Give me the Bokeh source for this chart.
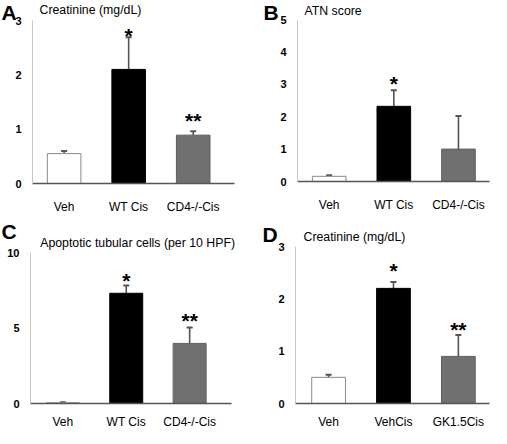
from bokeh.plotting import figure
from bokeh.layouts import column, row
from bokeh.models import Range1d, FixedTicker, Label, ColumnDataSource
from bokeh.core.properties import value
from bokeh.embed import file_html
from bokeh.resources import INLINE

FONT = "Liberation Sans"

# ---- data ----
cats_A = ["Veh", "WT Cis", "CD4-/-Cis"]
vals_A = [0.55, 2.1, 0.89]
errs_A = [0.05, 0.59, 0.07]
stars_A = ["", "*", "**"]
stary_A = [0, 2.93, 1.37]

cats_B = ["Veh", "WT Cis", "CD4-/-Cis"]
vals_B = [0.16, 2.32, 1.0]
errs_B = [0.03, 0.5, 1.02]
stars_B = ["", "*", ""]
stary_B = [0, 3.36, 0]

cats_C = ["Veh", "WT Cis", "CD4-/-Cis"]
vals_C = [0.05, 7.3, 3.98]
errs_C = [0.03, 0.52, 1.06]
stars_C = ["", "*", "**"]
stary_C = [0, 8.9, 6.22]

cats_D = ["Veh", "VehCis", "GK1.5Cis"]
vals_D = [0.5, 2.2, 0.9]
errs_D = [0.05, 0.12, 0.41]
stars_D = ["", "*", "**"]
stary_D = [0, 2.76, 1.63]

FILL = ["white", "black", "#707070"]
EDGE = ["#8a8a8a", "black", "#5e5e5e"]


def panel(cats, vals, errs, stars, stary, yticks, title, letter,
          w, h, L, R, T, B, xr, title_xy, letter_xy, standoff):
    ymax = yticks[-1]
    x0, x1 = xr
    kx = (x1 - x0) / (R - L)
    ky = ymax / (B - T)
    p = figure(width=w, height=h, output_backend="svg", toolbar_location=None,
               min_border_left=0, min_border_right=0,
               min_border_top=0, min_border_bottom=0,
               x_range=Range1d(x0 - L * kx, x1 + (w - R) * kx),
               y_range=Range1d(-(h - B) * ky, ymax + T * ky))
    p.outline_line_color = None
    p.xgrid.visible = False
    p.ygrid.visible = False
    xs = list(range(len(cats)))
    src = ColumnDataSource(dict(x=xs, top=vals, fill=FILL, edge=EDGE,
                                etop=[v + e for v, e in zip(vals, errs)]))
    p.segment(x0="x", y0="top", x1="x", y1="etop", source=src,
              line_color="#555555", line_width=1.6)
    p.scatter(x="x", y="etop", source=src, marker="dash", size=6,
              line_color="#555555", line_width=2)
    p.vbar(x="x", top="top", bottom=0, width=0.52, source=src,
           fill_color="fill", line_color="edge", line_width=1)
    sx = [x for x, s in zip(xs, stars) if s]
    sy = [y for y, s in zip(stary, stars) if s]
    st = [s for s in stars if s]
    p.text(x=sx, y=sy, text=st, text_font=value(FONT), text_font_size="21px",
           text_font_style="bold", y_offset=11,
           text_align="center", text_baseline="middle", text_color="black")

    p.xaxis.fixed_location = 0
    p.xaxis.bounds = (x0, x1)
    p.xaxis.ticker = FixedTicker(ticks=xs)
    p.xaxis.major_label_overrides = {i: c for i, c in enumerate(cats)}
    p.xaxis.major_tick_line_color = None
    p.xaxis.minor_tick_line_color = None
    p.xaxis.axis_line_color = "#555555"
    p.xaxis.axis_line_width = 1.5
    p.xaxis.major_label_text_font = FONT
    p.xaxis.major_label_text_font_size = "12px"
    p.xaxis.major_label_text_color = "black"
    p.xaxis.major_label_standoff = standoff

    p.yaxis.fixed_location = x0
    p.yaxis.bounds = (0, ymax)
    p.yaxis.ticker = FixedTicker(ticks=yticks)
    p.yaxis.major_tick_line_color = None
    p.yaxis.minor_tick_line_color = None
    p.yaxis.axis_line_color = "#c8c8c8"
    p.yaxis.axis_line_width = 1
    p.yaxis.major_label_text_font = FONT
    p.yaxis.major_label_text_font_size = "11px"
    p.yaxis.major_label_text_font_style = "bold"
    p.yaxis.major_label_text_color = "black"
    p.yaxis.major_label_standoff = 5

    p.add_layout(Label(x=title_xy[0], y=h - title_xy[1], x_units="screen", y_units="screen",
                       text=title, text_font=FONT, text_font_size="12.3px",
                       text_baseline="middle", text_align="left", text_color="black"))
    p.add_layout(Label(x=letter_xy[0], y=h - letter_xy[1], x_units="screen", y_units="screen",
                       text=letter, text_font=FONT, text_font_size="21px",
                       text_font_style="bold", text_baseline="middle",
                       text_align="left", text_color="black"))
    return p


pA = panel(cats_A, vals_A, errs_A, stars_A, stary_A, [0, 1, 2, 3],
           "Creatinine (mg/dL)", "A",
           245, 214, 32, 234, 20, 183, (-0.49, 2.64), (39, 9.6), (1, 11.5), 10)
pB = panel(cats_B, vals_B, errs_B, stars_B, stary_B, [0, 1, 2, 3, 4, 5],
           "ATN score", "B",
           246, 214, 52, 244, 19, 181, (-0.49, 2.48), (59, 10.6), (18, 11.5), 10)
pC = panel(cats_C, vals_C, errs_C, stars_C, stary_C, [0, 5, 10],
           "Apoptotic tubular cells (per 10 HPF)", "C",
           245, 214, 30, 231, 38, 189, (-0.51, 2.66), (39.7, 28.3), (1, 17.4), 5)
pD = panel(cats_D, vals_D, errs_D, stars_D, stary_D, [0, 1, 2, 3],
           "Creatinine (mg/dL)", "D",
           246, 214, 50, 244, 32, 189, (-0.51, 2.48), (58, 22), (17, 19.8), 5)

layout = column(row(pA, pB), row(pC, pD))
open("out.html", "w").write(file_html(layout, INLINE))
